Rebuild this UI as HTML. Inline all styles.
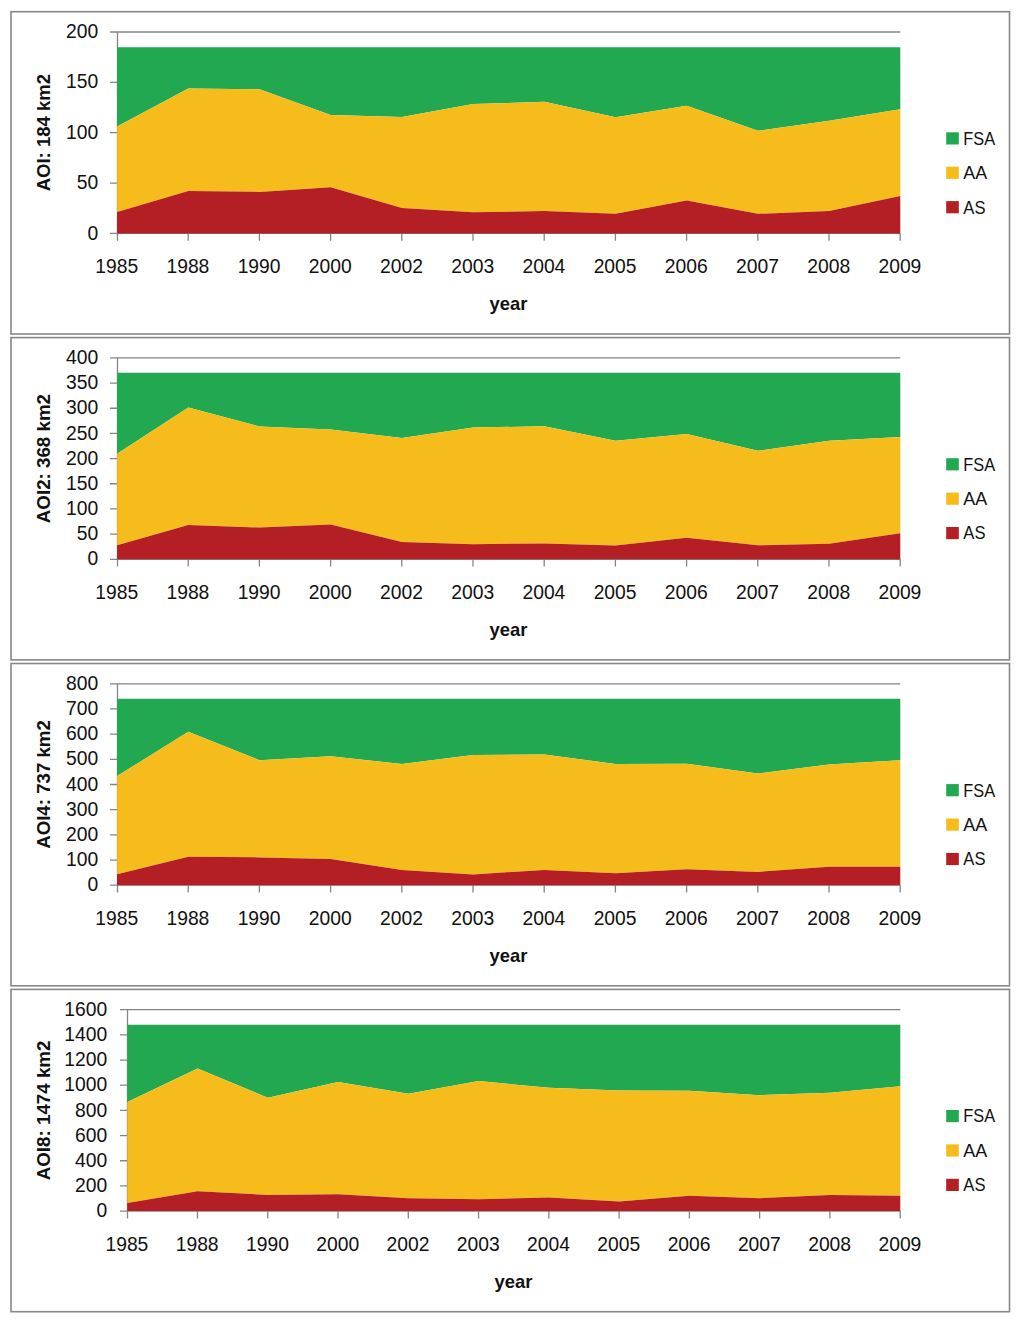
<!DOCTYPE html>
<html><head><meta charset="utf-8"><title>AOI stacked area charts</title>
<style>
html,body{margin:0;padding:0;background:#fff;}
body{width:1024px;height:1325px;overflow:hidden;}
svg{display:block;}
text{font-family:"Liberation Sans",sans-serif;fill:#111;}
.t{font-size:19.3px;}
.l{font-size:19px;}
.b{font-size:18.4px;font-weight:bold;}
</style></head><body>
<svg width="1024" height="1325" viewBox="0 0 1024 1325">
<rect x="0" y="0" width="1024" height="1325" fill="#fff"/>
<rect x="11" y="11.7" width="998.5" height="322.3" fill="#fff" stroke="#878787" stroke-width="1.6"/>
<path d="M110 32H900.3 M117.5 32V240.7 M117.5 233.4H900.3 M110 32H117.5 M110 82.35H117.5 M110 132.7H117.5 M110 183.05H117.5 M110 233.4H117.5 M188.2 233.4V240.7 M259.4 233.4V240.7 M330.6 233.4V240.7 M401.8 233.4V240.7 M473 233.4V240.7 M544.2 233.4V240.7 M615.4 233.4V240.7 M686.6 233.4V240.7 M757.8 233.4V240.7 M829 233.4V240.7 M900.2 233.4V240.7" stroke="#858585" stroke-width="1.3" fill="none"/>
<polygon fill="#21a850" points="117.1,47.2 900.3,47.2 900.3,109.3 829.1,120.8 757.9,130.8 686.7,105.7 615.5,117.3 544.3,101.8 473.1,104.1 401.9,117 330.7,115 259.5,89.3 188.3,88.6 117.1,126.4"/>
<polygon fill="#f6bc1b" points="117.1,126.4 188.3,88.6 259.5,89.3 330.7,115 401.9,117 473.1,104.1 544.3,101.8 615.5,117.3 686.7,105.7 757.9,130.8 829.1,120.8 900.3,109.3 900.3,195.9 829.1,211 757.9,213.8 686.7,200.5 615.5,213.7 544.3,211.1 473.1,212.2 401.9,208.1 330.7,187.2 259.5,191.9 188.3,191.1 117.1,211.9"/>
<polygon fill="#b41e25" points="117.1,211.9 188.3,191.1 259.5,191.9 330.7,187.2 401.9,208.1 473.1,212.2 544.3,211.1 615.5,213.7 686.7,200.5 757.9,213.8 829.1,211 900.3,195.9 900.3,233.4 117.1,233.4"/>
<text class="t" x="98.2" y="38.1" text-anchor="end">200</text>
<text class="t" x="98.2" y="88.45" text-anchor="end">150</text>
<text class="t" x="98.2" y="138.8" text-anchor="end">100</text>
<text class="t" x="98.2" y="189.15" text-anchor="end">50</text>
<text class="t" x="98.2" y="239.5" text-anchor="end">0</text>
<text class="t" x="116.7" y="273.3" text-anchor="middle">1985</text>
<text class="t" x="187.9" y="273.3" text-anchor="middle">1988</text>
<text class="t" x="259.1" y="273.3" text-anchor="middle">1990</text>
<text class="t" x="330.3" y="273.3" text-anchor="middle">2000</text>
<text class="t" x="401.5" y="273.3" text-anchor="middle">2002</text>
<text class="t" x="472.7" y="273.3" text-anchor="middle">2003</text>
<text class="t" x="543.9" y="273.3" text-anchor="middle">2004</text>
<text class="t" x="615.1" y="273.3" text-anchor="middle">2005</text>
<text class="t" x="686.3" y="273.3" text-anchor="middle">2006</text>
<text class="t" x="757.5" y="273.3" text-anchor="middle">2007</text>
<text class="t" x="828.7" y="273.3" text-anchor="middle">2008</text>
<text class="t" x="899.9" y="273.3" text-anchor="middle">2009</text>
<text class="b" x="508.4" y="309.8" text-anchor="middle">year</text>
<text class="b" transform="translate(49.6,132.7) rotate(-90)" x="0" y="0" text-anchor="middle" textLength="117.3" lengthAdjust="spacingAndGlyphs">AOI: 184 km2</text>
<rect x="946.2" y="132.3" width="12.6" height="12.2" fill="#21a850"/>
<text class="l" x="963.3" y="144.7" textLength="31.8" lengthAdjust="spacingAndGlyphs">FSA</text>
<rect x="946.2" y="166.7" width="12.6" height="12.2" fill="#f6bc1b"/>
<text class="l" x="963.3" y="179.1" textLength="23.9" lengthAdjust="spacingAndGlyphs">AA</text>
<rect x="946.2" y="201.1" width="12.6" height="12.2" fill="#b41e25"/>
<text class="l" x="963.3" y="213.5" textLength="22.2" lengthAdjust="spacingAndGlyphs">AS</text>
<rect x="11" y="337.6" width="998.5" height="322.3" fill="#fff" stroke="#878787" stroke-width="1.6"/>
<path d="M110 357.9H900.3 M117.5 357.9V566.6 M117.5 559.3H900.3 M110 357.9H117.5 M110 383.07H117.5 M110 408.25H117.5 M110 433.42H117.5 M110 458.6H117.5 M110 483.77H117.5 M110 508.95H117.5 M110 534.12H117.5 M110 559.3H117.5 M188.2 559.3V566.6 M259.4 559.3V566.6 M330.6 559.3V566.6 M401.8 559.3V566.6 M473 559.3V566.6 M544.2 559.3V566.6 M615.4 559.3V566.6 M686.6 559.3V566.6 M757.8 559.3V566.6 M829 559.3V566.6 M900.2 559.3V566.6" stroke="#858585" stroke-width="1.3" fill="none"/>
<polygon fill="#21a850" points="117.1,372.7 900.3,372.7 900.3,436.9 829.1,440.8 757.9,450.8 686.7,433.9 615.5,440.8 544.3,426.2 473.1,427.6 401.9,437.9 330.7,429.5 259.5,426.4 188.3,407.4 117.1,453.8"/>
<polygon fill="#f6bc1b" points="117.1,453.8 188.3,407.4 259.5,426.4 330.7,429.5 401.9,437.9 473.1,427.6 544.3,426.2 615.5,440.8 686.7,433.9 757.9,450.8 829.1,440.8 900.3,436.9 900.3,533.2 829.1,543.8 757.9,545.3 686.7,537.7 615.5,545.4 544.3,543.4 473.1,544.3 401.9,541.9 330.7,524.5 259.5,527.5 188.3,525 117.1,545.3"/>
<polygon fill="#b41e25" points="117.1,545.3 188.3,525 259.5,527.5 330.7,524.5 401.9,541.9 473.1,544.3 544.3,543.4 615.5,545.4 686.7,537.7 757.9,545.3 829.1,543.8 900.3,533.2 900.3,559.3 117.1,559.3"/>
<text class="t" x="98.2" y="364" text-anchor="end">400</text>
<text class="t" x="98.2" y="389.18" text-anchor="end">350</text>
<text class="t" x="98.2" y="414.35" text-anchor="end">300</text>
<text class="t" x="98.2" y="439.52" text-anchor="end">250</text>
<text class="t" x="98.2" y="464.7" text-anchor="end">200</text>
<text class="t" x="98.2" y="489.88" text-anchor="end">150</text>
<text class="t" x="98.2" y="515.05" text-anchor="end">100</text>
<text class="t" x="98.2" y="540.23" text-anchor="end">50</text>
<text class="t" x="98.2" y="565.4" text-anchor="end">0</text>
<text class="t" x="116.7" y="599.2" text-anchor="middle">1985</text>
<text class="t" x="187.9" y="599.2" text-anchor="middle">1988</text>
<text class="t" x="259.1" y="599.2" text-anchor="middle">1990</text>
<text class="t" x="330.3" y="599.2" text-anchor="middle">2000</text>
<text class="t" x="401.5" y="599.2" text-anchor="middle">2002</text>
<text class="t" x="472.7" y="599.2" text-anchor="middle">2003</text>
<text class="t" x="543.9" y="599.2" text-anchor="middle">2004</text>
<text class="t" x="615.1" y="599.2" text-anchor="middle">2005</text>
<text class="t" x="686.3" y="599.2" text-anchor="middle">2006</text>
<text class="t" x="757.5" y="599.2" text-anchor="middle">2007</text>
<text class="t" x="828.7" y="599.2" text-anchor="middle">2008</text>
<text class="t" x="899.9" y="599.2" text-anchor="middle">2009</text>
<text class="b" x="508.4" y="635.7" text-anchor="middle">year</text>
<text class="b" transform="translate(49.6,458.6) rotate(-90)" x="0" y="0" text-anchor="middle" textLength="129.2" lengthAdjust="spacingAndGlyphs">AOI2: 368 km2</text>
<rect x="946.2" y="458.2" width="12.6" height="12.2" fill="#21a850"/>
<text class="l" x="963.3" y="470.6" textLength="31.8" lengthAdjust="spacingAndGlyphs">FSA</text>
<rect x="946.2" y="492.6" width="12.6" height="12.2" fill="#f6bc1b"/>
<text class="l" x="963.3" y="505" textLength="23.9" lengthAdjust="spacingAndGlyphs">AA</text>
<rect x="946.2" y="527" width="12.6" height="12.2" fill="#b41e25"/>
<text class="l" x="963.3" y="539.4" textLength="22.2" lengthAdjust="spacingAndGlyphs">AS</text>
<rect x="11" y="663.5" width="998.5" height="322.3" fill="#fff" stroke="#878787" stroke-width="1.6"/>
<path d="M110 683.8H900.3 M117.5 683.8V892.5 M117.5 885.2H900.3 M110 683.8H117.5 M110 708.97H117.5 M110 734.15H117.5 M110 759.33H117.5 M110 784.5H117.5 M110 809.67H117.5 M110 834.85H117.5 M110 860.03H117.5 M110 885.2H117.5 M188.2 885.2V892.5 M259.4 885.2V892.5 M330.6 885.2V892.5 M401.8 885.2V892.5 M473 885.2V892.5 M544.2 885.2V892.5 M615.4 885.2V892.5 M686.6 885.2V892.5 M757.8 885.2V892.5 M829 885.2V892.5 M900.2 885.2V892.5" stroke="#858585" stroke-width="1.3" fill="none"/>
<polygon fill="#21a850" points="117.1,698.7 900.3,698.7 900.3,760.2 829.1,764.4 757.9,773.5 686.7,763.8 615.5,763.9 544.3,754.5 473.1,755.1 401.9,763.9 330.7,756.3 259.5,760.2 188.3,731.7 117.1,776.1"/>
<polygon fill="#f6bc1b" points="117.1,776.1 188.3,731.7 259.5,760.2 330.7,756.3 401.9,763.9 473.1,755.1 544.3,754.5 615.5,763.9 686.7,763.8 757.9,773.5 829.1,764.4 900.3,760.2 900.3,866.7 829.1,866.7 757.9,871.9 686.7,869.2 615.5,873.3 544.3,870 473.1,874.4 401.9,870 330.7,858.9 259.5,857.4 188.3,856.7 117.1,874.2"/>
<polygon fill="#b41e25" points="117.1,874.2 188.3,856.7 259.5,857.4 330.7,858.9 401.9,870 473.1,874.4 544.3,870 615.5,873.3 686.7,869.2 757.9,871.9 829.1,866.7 900.3,866.7 900.3,885.2 117.1,885.2"/>
<text class="t" x="98.2" y="689.9" text-anchor="end">800</text>
<text class="t" x="98.2" y="715.07" text-anchor="end">700</text>
<text class="t" x="98.2" y="740.25" text-anchor="end">600</text>
<text class="t" x="98.2" y="765.43" text-anchor="end">500</text>
<text class="t" x="98.2" y="790.6" text-anchor="end">400</text>
<text class="t" x="98.2" y="815.77" text-anchor="end">300</text>
<text class="t" x="98.2" y="840.95" text-anchor="end">200</text>
<text class="t" x="98.2" y="866.13" text-anchor="end">100</text>
<text class="t" x="98.2" y="891.3" text-anchor="end">0</text>
<text class="t" x="116.7" y="925.1" text-anchor="middle">1985</text>
<text class="t" x="187.9" y="925.1" text-anchor="middle">1988</text>
<text class="t" x="259.1" y="925.1" text-anchor="middle">1990</text>
<text class="t" x="330.3" y="925.1" text-anchor="middle">2000</text>
<text class="t" x="401.5" y="925.1" text-anchor="middle">2002</text>
<text class="t" x="472.7" y="925.1" text-anchor="middle">2003</text>
<text class="t" x="543.9" y="925.1" text-anchor="middle">2004</text>
<text class="t" x="615.1" y="925.1" text-anchor="middle">2005</text>
<text class="t" x="686.3" y="925.1" text-anchor="middle">2006</text>
<text class="t" x="757.5" y="925.1" text-anchor="middle">2007</text>
<text class="t" x="828.7" y="925.1" text-anchor="middle">2008</text>
<text class="t" x="899.9" y="925.1" text-anchor="middle">2009</text>
<text class="b" x="508.4" y="961.6" text-anchor="middle">year</text>
<text class="b" transform="translate(49.6,784.5) rotate(-90)" x="0" y="0" text-anchor="middle" textLength="128.6" lengthAdjust="spacingAndGlyphs">AOI4: 737 km2</text>
<rect x="946.2" y="784.1" width="12.6" height="12.2" fill="#21a850"/>
<text class="l" x="963.3" y="796.5" textLength="31.8" lengthAdjust="spacingAndGlyphs">FSA</text>
<rect x="946.2" y="818.5" width="12.6" height="12.2" fill="#f6bc1b"/>
<text class="l" x="963.3" y="830.9" textLength="23.9" lengthAdjust="spacingAndGlyphs">AA</text>
<rect x="946.2" y="852.9" width="12.6" height="12.2" fill="#b41e25"/>
<text class="l" x="963.3" y="865.3" textLength="22.2" lengthAdjust="spacingAndGlyphs">AS</text>
<rect x="11" y="989.4" width="998.5" height="322.3" fill="#fff" stroke="#878787" stroke-width="1.6"/>
<path d="M120 1009.7H900.3 M127.5 1009.7V1218.4 M127.5 1211.1H900.3 M120 1009.7H127.5 M120 1034.88H127.5 M120 1060.05H127.5 M120 1085.22H127.5 M120 1110.4H127.5 M120 1135.57H127.5 M120 1160.75H127.5 M120 1185.92H127.5 M120 1211.1H127.5 M197.47 1211.1V1218.4 M267.75 1211.1V1218.4 M338.02 1211.1V1218.4 M408.29 1211.1V1218.4 M478.56 1211.1V1218.4 M548.84 1211.1V1218.4 M619.11 1211.1V1218.4 M689.38 1211.1V1218.4 M759.65 1211.1V1218.4 M829.93 1211.1V1218.4 M900.2 1211.1V1218.4" stroke="#858585" stroke-width="1.3" fill="none"/>
<polygon fill="#21a850" points="127.3,1024.7 900.3,1024.7 900.3,1086.2 830.03,1092.8 759.75,1095.2 689.48,1090.7 619.21,1090.5 548.94,1087.8 478.66,1081.1 408.39,1093.7 338.12,1081.9 267.85,1097.7 197.57,1068.4 127.3,1102.1"/>
<polygon fill="#f6bc1b" points="127.3,1102.1 197.57,1068.4 267.85,1097.7 338.12,1081.9 408.39,1093.7 478.66,1081.1 548.94,1087.8 619.21,1090.5 689.48,1090.7 759.75,1095.2 830.03,1092.8 900.3,1086.2 900.3,1195.8 830.03,1194.9 759.75,1198.2 689.48,1195.8 619.21,1201.5 548.94,1197.4 478.66,1199.2 408.39,1198.3 338.12,1194.3 267.85,1194.9 197.57,1191.2 127.3,1202.9"/>
<polygon fill="#b41e25" points="127.3,1202.9 197.57,1191.2 267.85,1194.9 338.12,1194.3 408.39,1198.3 478.66,1199.2 548.94,1197.4 619.21,1201.5 689.48,1195.8 759.75,1198.2 830.03,1194.9 900.3,1195.8 900.3,1211.1 127.3,1211.1"/>
<text class="t" x="107.2" y="1015.8" text-anchor="end">1600</text>
<text class="t" x="107.2" y="1040.97" text-anchor="end">1400</text>
<text class="t" x="107.2" y="1066.15" text-anchor="end">1200</text>
<text class="t" x="107.2" y="1091.32" text-anchor="end">1000</text>
<text class="t" x="107.2" y="1116.5" text-anchor="end">800</text>
<text class="t" x="107.2" y="1141.67" text-anchor="end">600</text>
<text class="t" x="107.2" y="1166.85" text-anchor="end">400</text>
<text class="t" x="107.2" y="1192.02" text-anchor="end">200</text>
<text class="t" x="107.2" y="1217.2" text-anchor="end">0</text>
<text class="t" x="126.9" y="1251" text-anchor="middle">1985</text>
<text class="t" x="197.17" y="1251" text-anchor="middle">1988</text>
<text class="t" x="267.45" y="1251" text-anchor="middle">1990</text>
<text class="t" x="337.72" y="1251" text-anchor="middle">2000</text>
<text class="t" x="407.99" y="1251" text-anchor="middle">2002</text>
<text class="t" x="478.26" y="1251" text-anchor="middle">2003</text>
<text class="t" x="548.54" y="1251" text-anchor="middle">2004</text>
<text class="t" x="618.81" y="1251" text-anchor="middle">2005</text>
<text class="t" x="689.08" y="1251" text-anchor="middle">2006</text>
<text class="t" x="759.35" y="1251" text-anchor="middle">2007</text>
<text class="t" x="829.63" y="1251" text-anchor="middle">2008</text>
<text class="t" x="899.9" y="1251" text-anchor="middle">2009</text>
<text class="b" x="513.4" y="1287.5" text-anchor="middle">year</text>
<text class="b" transform="translate(49.6,1110.4) rotate(-90)" x="0" y="0" text-anchor="middle" textLength="139.8" lengthAdjust="spacingAndGlyphs">AOI8: 1474 km2</text>
<rect x="946.2" y="1110" width="12.6" height="12.2" fill="#21a850"/>
<text class="l" x="963.3" y="1122.4" textLength="31.8" lengthAdjust="spacingAndGlyphs">FSA</text>
<rect x="946.2" y="1144.4" width="12.6" height="12.2" fill="#f6bc1b"/>
<text class="l" x="963.3" y="1156.8" textLength="23.9" lengthAdjust="spacingAndGlyphs">AA</text>
<rect x="946.2" y="1178.8" width="12.6" height="12.2" fill="#b41e25"/>
<text class="l" x="963.3" y="1191.2" textLength="22.2" lengthAdjust="spacingAndGlyphs">AS</text>
</svg>
</body></html>
